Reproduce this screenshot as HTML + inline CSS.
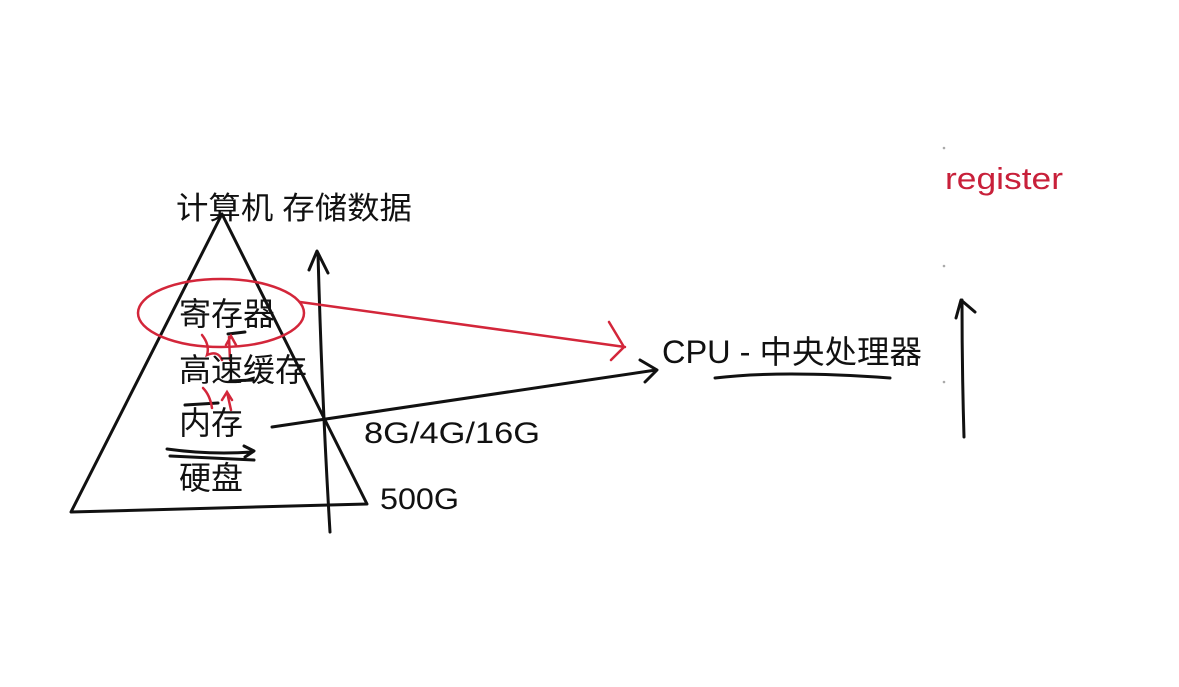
<!DOCTYPE html>
<html><head><meta charset="utf-8"><style>
html,body{margin:0;padding:0;background:#fff;width:1179px;height:687px;overflow:hidden}
svg{display:block}
text{font-family:"Liberation Sans","Noto Sans CJK SC",sans-serif;fill:#111}
</style></head><body>
<svg width="1179" height="687" viewBox="0 0 1179 687">
<text x="176" y="219" font-size="31" textLength="236" lengthAdjust="spacingAndGlyphs">计算机 存储数据</text>
<g fill="none" stroke="#111" stroke-width="3" stroke-linecap="round" stroke-linejoin="round">
<path d="M222 214 L71 512 L367 504 Z"/>
<path d="M330 532 Q322 400 318 254 M309 270 L317 251 L328 273"/>
<path d="M272 427 L656 370 M640 360 L657 370 L645 382"/>
<path d="M167 449 Q210 455 252 452 M244 446 L254 451 L245 457 M170 456 L254 460"/>
<path d="M185 405 L218 403 M230 381 L253 380 M228 334 L245 332"/>
<path d="M964 437 Q962 370 962 300 M956 318 L961 300 L975 312 M715 378 Q780 370 890 378"/>
</g>
<g fill="none" stroke="#d3263a" stroke-width="2.5" stroke-linecap="round">
<ellipse cx="221" cy="313" rx="83" ry="34"/>
<path d="M300 302 L625 347 M609 322 L624 347 L611 360"/>
<path d="M202 335 Q210 345 207 355 Q218 350 222 360 M226 345 L231 336 L236 345 M229 337 L230 360"/>
<path d="M203 388 Q210 395 212 408 M222 400 L227 392 L232 400 M227 392 L231 410"/>
</g>
<text x="179" y="325" font-size="32" textLength="96" lengthAdjust="spacingAndGlyphs">寄存器</text>
<text x="179" y="381" font-size="32" textLength="128" lengthAdjust="spacingAndGlyphs">高速缓存</text>
<text x="179" y="434" font-size="32" textLength="64" lengthAdjust="spacingAndGlyphs">内存</text>
<text x="179" y="489" font-size="32" textLength="64" lengthAdjust="spacingAndGlyphs">硬盘</text>
<text x="364" y="443" font-size="30" textLength="176" lengthAdjust="spacingAndGlyphs">8G/4G/16G</text>
<text x="380" y="509" font-size="30" textLength="79" lengthAdjust="spacingAndGlyphs">500G</text>
<text x="662" y="363" font-size="32" textLength="260" lengthAdjust="spacingAndGlyphs">CPU - 中央处理器</text>
<text x="945" y="189" font-size="31" textLength="118" lengthAdjust="spacingAndGlyphs" style="fill:#c8203a">register</text>
<circle cx="944" cy="148" r="1.3" fill="#aaa"/><circle cx="944" cy="266" r="1.3" fill="#aaa"/><circle cx="944" cy="382" r="1.3" fill="#aaa"/>
</svg>
</body></html>
